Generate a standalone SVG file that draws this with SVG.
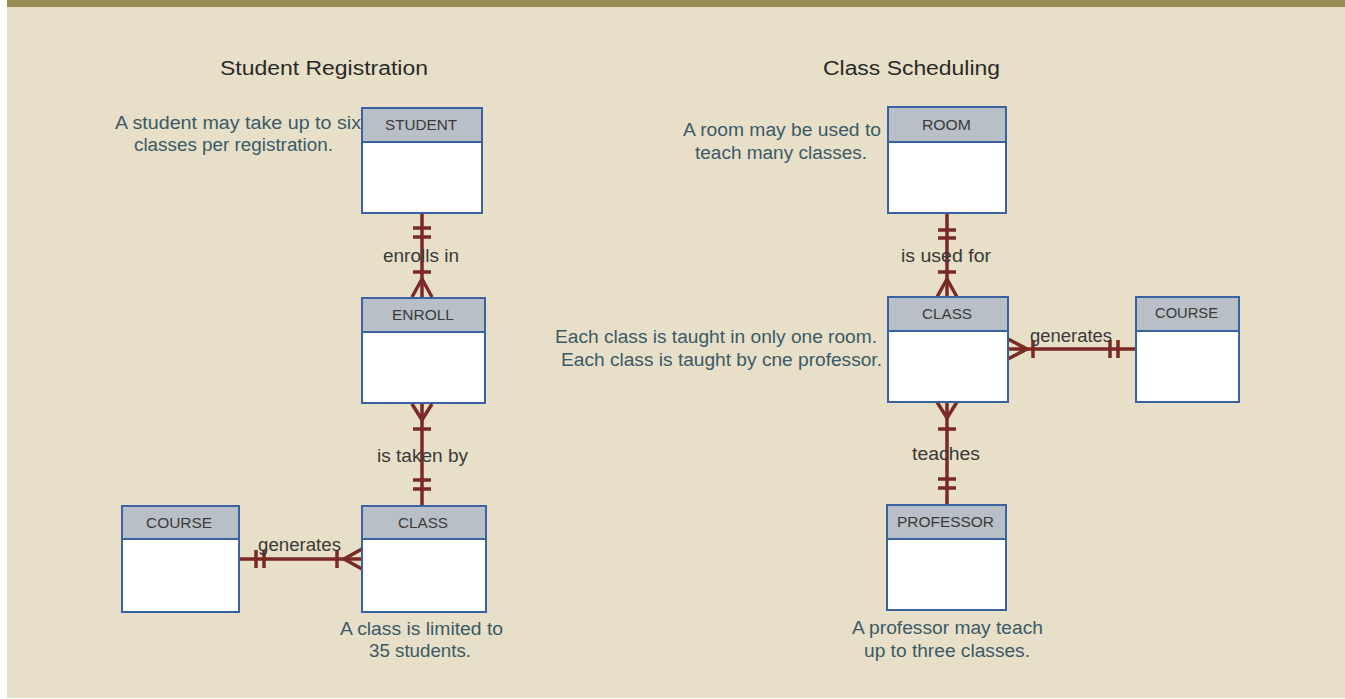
<svg xmlns="http://www.w3.org/2000/svg" width="1345" height="699" viewBox="0 0 1345 699">
<style>
.box{fill:#ffffff;stroke:#3a62a0;stroke-width:2}
.hdr{fill:#b8bfc6;stroke:#3a62a0;stroke-width:2}
text{font-family:"Liberation Sans",Arial,sans-serif}
.ht{font-size:15px;fill:#3a3a3a}
.title{font-size:20px;fill:#2a2a2a}
.note{font-size:18px;fill:#3b5a68}
.lbl{font-size:18px;fill:#3a3a3a}
.c{stroke:#7a2a24;stroke-width:3.5;fill:none;stroke-linecap:butt}
</style>
<rect x="0" y="0" width="1345" height="699" fill="#ffffff"/>
<rect x="7" y="0" width="1338" height="698" fill="#e7dfc7"/>
<rect x="7" y="0" width="1338" height="7" fill="#9a8c55"/>

<text class="title" x="220" y="75" textLength="208" lengthAdjust="spacingAndGlyphs">Student Registration</text>
<text class="title" x="823" y="75" textLength="177" lengthAdjust="spacingAndGlyphs">Class Scheduling</text>

<g id="notes">
<text class="note" x="115" y="129" textLength="246" lengthAdjust="spacingAndGlyphs">A student may take up to six</text>
<text class="note" x="134" y="151" textLength="199" lengthAdjust="spacingAndGlyphs">classes per registration.</text>
<text class="note" x="683" y="136" textLength="198" lengthAdjust="spacingAndGlyphs">A room may be used to</text>
<text class="note" x="695" y="159" textLength="172" lengthAdjust="spacingAndGlyphs">teach many classes.</text>
<text class="note" x="555" y="343" textLength="322" lengthAdjust="spacingAndGlyphs">Each class is taught in only one room.</text>
<text class="note" x="561" y="366" textLength="321" lengthAdjust="spacingAndGlyphs">Each class is taught by cne professor.</text>
<text class="note" x="340" y="635" textLength="163" lengthAdjust="spacingAndGlyphs">A class is limited to</text>
<text class="note" x="369" y="657" textLength="102" lengthAdjust="spacingAndGlyphs">35 students.</text>
<text class="note" x="852" y="634" textLength="191" lengthAdjust="spacingAndGlyphs">A professor may teach</text>
<text class="note" x="864" y="657" textLength="166" lengthAdjust="spacingAndGlyphs">up to three classes.</text>
</g>

<g id="connectors">
<!-- STUDENT - ENROLL -->
<line class="c" x1="422" y1="213" x2="422" y2="297"/>
<line class="c" x1="413" y1="228" x2="431" y2="228"/>
<line class="c" x1="413" y1="237" x2="431" y2="237"/>
<line class="c" x1="413" y1="272" x2="431" y2="272"/>
<polyline class="c" points="412,297 422,279 432,297"/>
<!-- ENROLL - CLASS -->
<line class="c" x1="422" y1="404" x2="422" y2="506"/>
<polyline class="c" points="412,404 422,420 432,404"/>
<line class="c" x1="413" y1="429" x2="431" y2="429"/>
<line class="c" x1="413" y1="480" x2="431" y2="480"/>
<line class="c" x1="413" y1="489" x2="431" y2="489"/>
<!-- COURSE - CLASS (left) -->
<line class="c" x1="239" y1="559" x2="362" y2="559"/>
<line class="c" x1="256" y1="550" x2="256" y2="568"/>
<line class="c" x1="264" y1="550" x2="264" y2="568"/>
<line class="c" x1="337" y1="550" x2="337" y2="568"/>
<polyline class="c" points="362,549 344,559 362,569"/>
<!-- ROOM - CLASS -->
<line class="c" x1="947" y1="213" x2="947" y2="297"/>
<line class="c" x1="938" y1="230" x2="956" y2="230"/>
<line class="c" x1="938" y1="238" x2="956" y2="238"/>
<line class="c" x1="938" y1="272" x2="956" y2="272"/>
<polyline class="c" points="937,297 947,279 957,297"/>
<!-- CLASS - PROFESSOR -->
<line class="c" x1="947" y1="402" x2="947" y2="505"/>
<polyline class="c" points="937,402 947,418 957,402"/>
<line class="c" x1="938" y1="429" x2="956" y2="429"/>
<line class="c" x1="938" y1="479" x2="956" y2="479"/>
<line class="c" x1="938" y1="488" x2="956" y2="488"/>
<!-- CLASS - COURSE (right) -->
<line class="c" x1="1008" y1="349" x2="1136" y2="349"/>
<polyline class="c" points="1008,339 1027,349 1008,359"/>
<line class="c" x1="1033" y1="340" x2="1033" y2="358"/>
<line class="c" x1="1110" y1="340" x2="1110" y2="358"/>
<line class="c" x1="1118" y1="340" x2="1118" y2="358"/>
<text class="lbl" x="383" y="262" textLength="76" lengthAdjust="spacingAndGlyphs">enrolls in</text>
<text class="lbl" x="377" y="462" textLength="91" lengthAdjust="spacingAndGlyphs">is taken by</text>
<text class="lbl" x="258" y="551" textLength="83" lengthAdjust="spacingAndGlyphs">generates</text>
<text class="lbl" x="901" y="262" textLength="90" lengthAdjust="spacingAndGlyphs">is used for</text>
<text class="lbl" x="912" y="460" textLength="68" lengthAdjust="spacingAndGlyphs">teaches</text>
<text class="lbl" x="1030" y="342" textLength="82" lengthAdjust="spacingAndGlyphs">generates</text>
</g>

<g id="student">
<rect class="box" x="362" y="108" width="120" height="105"/>
<rect class="hdr" x="362" y="108" width="120" height="34"/>
<text class="ht" x="385" y="130" textLength="72" lengthAdjust="spacingAndGlyphs">STUDENT</text>
</g>
<g id="enroll">
<rect class="box" x="362" y="298" width="123" height="105"/>
<rect class="hdr" x="362" y="298" width="123" height="34"/>
<text class="ht" x="392" y="320" textLength="62" lengthAdjust="spacingAndGlyphs">ENROLL</text>
</g>
<g id="class-left">
<rect class="box" x="362" y="506" width="124" height="106"/>
<rect class="hdr" x="362" y="506" width="124" height="33"/>
<text class="ht" x="398" y="528" textLength="50" lengthAdjust="spacingAndGlyphs">CLASS</text>
</g>
<g id="course-left">
<rect class="box" x="122" y="506" width="117" height="106"/>
<rect class="hdr" x="122" y="506" width="117" height="33"/>
<text class="ht" x="146" y="528" textLength="66" lengthAdjust="spacingAndGlyphs">COURSE</text>
</g>
<g id="room">
<rect class="box" x="888" y="107" width="118" height="106"/>
<rect class="hdr" x="888" y="107" width="118" height="35"/>
<text class="ht" x="922" y="130" textLength="49" lengthAdjust="spacingAndGlyphs">ROOM</text>
</g>
<g id="class-right">
<rect class="box" x="888" y="297" width="120" height="105"/>
<rect class="hdr" x="888" y="297" width="120" height="34"/>
<text class="ht" x="922" y="319" textLength="50" lengthAdjust="spacingAndGlyphs">CLASS</text>
</g>
<g id="course-right">
<rect class="box" x="1136" y="297" width="103" height="105"/>
<rect class="hdr" x="1136" y="297" width="103" height="34"/>
<text class="ht" x="1155" y="318" textLength="63" lengthAdjust="spacingAndGlyphs">COURSE</text>
</g>
<g id="professor">
<rect class="box" x="887" y="505" width="119" height="105"/>
<rect class="hdr" x="887" y="505" width="119" height="34"/>
<text class="ht" x="897" y="527" textLength="97" lengthAdjust="spacingAndGlyphs">PROFESSOR</text>
</g>
</svg>
